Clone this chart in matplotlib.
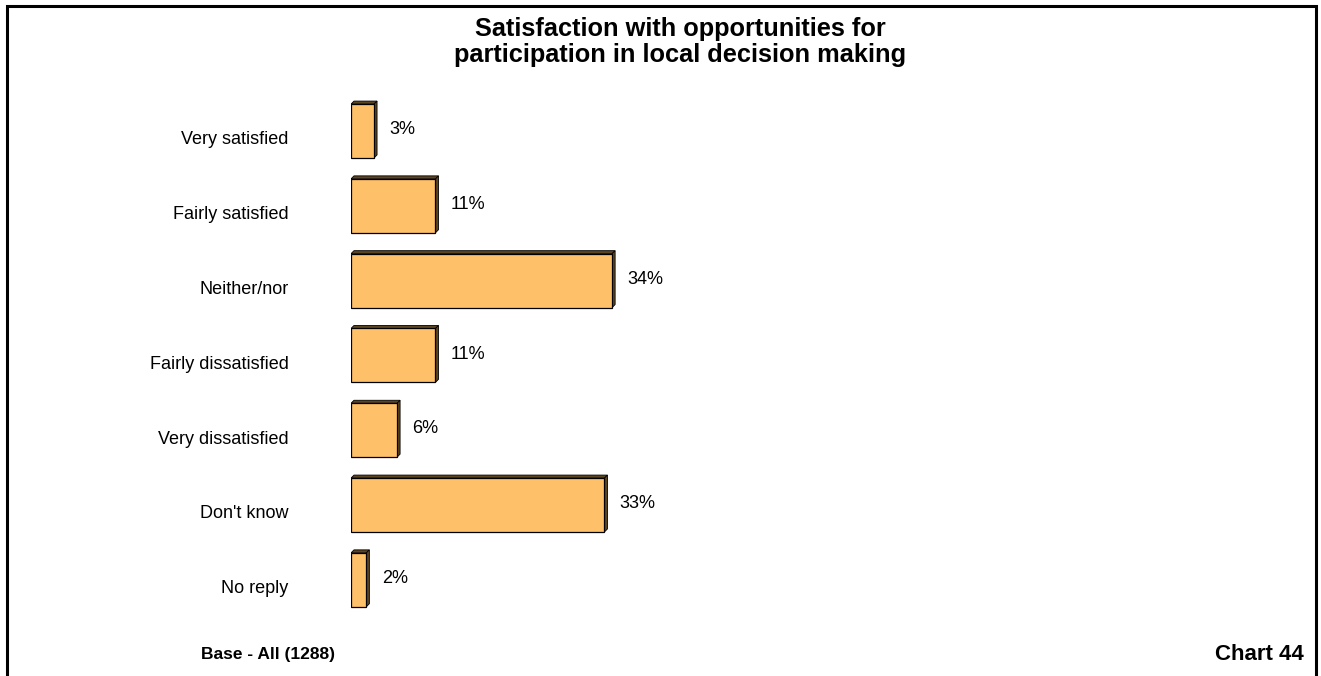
import matplotlib
matplotlib.use("Agg")
import matplotlib.pyplot as plt
import matplotlib.transforms as mtransforms
from matplotlib.patches import Polygon, Rectangle

plt.rcParams['font.family'] = ['Liberation Sans', 'DejaVu Sans']

categories = ["Very satisfied", "Fairly satisfied", "Neither/nor",
              "Fairly dissatisfied", "Very dissatisfied", "Don't know", "No reply"]
values = [3, 11, 34, 11, 6, 33, 2]
value_labels = ["3%", "11%", "34%", "11%", "6%", "33%", "2%"]

title = "Satisfaction with opportunities for\nparticipation in local decision making"
base_note = "Base - All (1288)"
chart_no = "Chart 44"

W, H, DPI = 1321, 676, 100
fig = plt.figure(figsize=(W / DPI, H / DPI), dpi=DPI)

# axes placed in pixel terms
ax_left, ax_right = 351, 1251
ax_top, ax_bottom = 93.6, 617.2
ax = fig.add_axes([ax_left / W, 1 - ax_bottom / H,
                   (ax_right - ax_left) / W, (ax_bottom - ax_top) / H])
px_per_pct = 7.68
ax.set_xlim(0, (ax_right - ax_left) / px_per_pct)
n = len(categories)
ax.set_ylim(n - 0.5, -0.5)

face = "#FFC06A"
dark = "#5e4522"
bar_h = 0.72
depth = 3  # pixels of the pseudo-3D extrusion

ypos = list(range(n))
ax.barh(ypos, values, height=bar_h, color=face, edgecolor="black",
        linewidth=0.9, zorder=3)

# top and right faces of each bar, offset in display space
fig.canvas.draw()
trans = ax.transData
inv = trans.inverted()
for y, v in zip(ypos, values):
    x0, yt = trans.transform((0, y - bar_h / 2))
    x1, yb = trans.transform((v, y + bar_h / 2))
    top_face = [(x0, yt), (x1, yt), (x1 + depth, yt + depth), (x0 + depth, yt + depth)]
    side_face = [(x1, yt), (x1 + depth, yt + depth), (x1 + depth, yb + depth), (x1, yb)]
    for pts in (top_face, side_face):
        dpts = [inv.transform(p) for p in pts]
        ax.add_patch(Polygon(dpts, closed=True, facecolor=dark, edgecolor="black",
                             linewidth=0.6, zorder=2))

for y, v, lab in zip(ypos, values, value_labels):
    ax.annotate(lab, xy=(v, y), xytext=(11, 1), textcoords="offset points",
                ha="left", va="center", fontsize=13, color="black")

ax.set_yticks(ypos)
ax.set_yticklabels(categories, fontsize=13)
ax.tick_params(axis="y", length=0, pad=45)
shift = mtransforms.ScaledTranslation(0, -7 / DPI, fig.dpi_scale_trans)
for lbl in ax.get_yticklabels():
    lbl.set_transform(lbl.get_transform() + shift)
ax.set_xticks([])
for s in ax.spines.values():
    s.set_visible(False)
ax.patch.set_alpha(0)

fig.text(680 / W, 1 - 42 / H, title, ha="center", va="center",
         fontsize=18.3, fontweight="bold", linespacing=1.1)
fig.text(268 / W, 1 - 655 / H, base_note, ha="center", va="center",
         fontsize=12.5, fontweight="bold")
fig.text(1304 / W, 1 - 655 / H, chart_no, ha="right", va="center",
         fontsize=16, fontweight="bold")

# frame around the page (open at the bottom edge)
fig.add_artist(Rectangle((6.5 / W, -0.05), (1316 - 6.5) / W, 1.05 - 6.5 / H,
                         transform=fig.transFigure, fill=False,
                         edgecolor="black", linewidth=2.2))

fig.savefig("out.png", dpi=DPI)
